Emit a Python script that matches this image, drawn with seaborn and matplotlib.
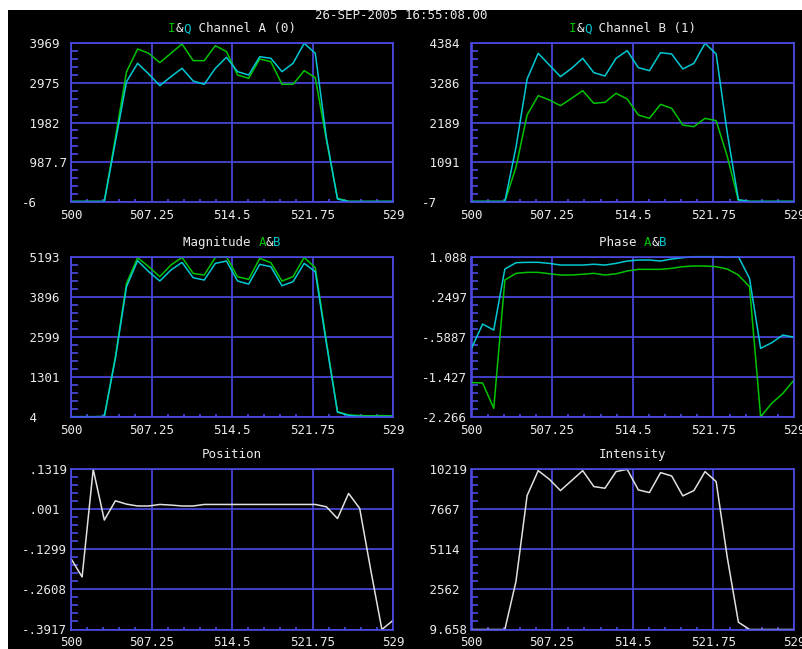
import numpy as np
import pandas as pd
import matplotlib
matplotlib.use("Agg")
import matplotlib.pyplot as plt
import seaborn as sns
from matplotlib.ticker import AutoMinorLocator
from matplotlib.patches import Rectangle

# -----------------------------
# Data
# -----------------------------
freq = list(range(500, 530))

chan_a_i = [0, 0, 0, 0, 1600, 3256, 3827, 3718, 3484, 3718, 3952, 3534, 3534, 3910, 3760,
            3174, 3090, 3576, 3509, 2940, 2940, 3283, 3107, 1550, 80, 0, 0, 0, 0, 0]
chan_a_q = [0, 0, 0, 0, 1500, 3005, 3467, 3199, 2906, 3132, 3341, 3023, 2940, 3341, 3618,
            3258, 3174, 3634, 3592, 3258, 3467, 3969, 3718, 1600, 60, 0, 0, 0, 0, 0]

chan_b_i = [0, 0, 0, 0, 950, 2397, 2933, 2813, 2655, 2859, 3071, 2720, 2748, 2997, 2840,
            2397, 2304, 2692, 2581, 2119, 2073, 2304, 2239, 1250, 30, 0, 0, 0, 0, 0]
chan_b_q = [0, 0, 0, 0, 1500, 3395, 4107, 3783, 3460, 3691, 3968, 3571, 3478, 3968, 4181,
            3709, 3626, 4125, 4088, 3672, 3829, 4384, 4088, 1900, 50, 0, 0, 0, 0, 0]

mag_a = [4, 4, 4, 10, 1950, 4328, 5161, 4869, 4544, 4923, 5171, 4652, 4598, 5171, 5193,
         4544, 4458, 5139, 4998, 4404, 4544, 5171, 4836, 2450, 166, 60, 40, 35, 40, 30]
mag_b = [4, 4, 4, 10, 1900, 4220, 5063, 4707, 4404, 4761, 5009, 4512, 4436, 4977, 5052,
         4404, 4306, 4944, 4869, 4252, 4382, 4977, 4707, 2380, 150, 50, 15, 10, 10, 8]

phase_a = [-1.55, -1.56, -2.09, 0.599, 0.739, 0.76, 0.76, 0.73, 0.704, 0.704, 0.72, 0.74,
           0.704, 0.73, 0.788, 0.823, 0.823, 0.823, 0.844, 0.879, 0.893, 0.893, 0.879,
           0.83, 0.704, 0.459, -2.266, -1.986, -1.777, -1.497]
phase_b = [-0.834, -0.324, -0.449, 0.829, 0.962, 0.97, 0.97, 0.948, 0.913, 0.913, 0.913,
           0.93, 0.913, 0.948, 0.997, 1.018, 1.018, 0.997, 1.039, 1.067, 1.088, 1.088,
           1.088, 1.074, 1.088, 0.634, -0.834, -0.715, -0.555, -0.6]

position = [-0.16, -0.220, 0.1319, -0.034, 0.029, 0.018, 0.012, 0.012, 0.017, 0.015,
            0.012, 0.012, 0.017, 0.017, 0.017, 0.017, 0.017, 0.017, 0.017, 0.017, 0.017,
            0.017, 0.017, 0.0095, -0.029, 0.053, 0.004, -0.198, -0.3917, -0.362]

intensity = [9.658, 9.658, 9.658, 9.658, 3080, 8546, 10134, 9584, 8863, 9499, 10134, 9118,
             9012, 10071, 10219, 8906, 8736, 10007, 9795, 8525, 8863, 10071, 9435, 4600,
             476, 10, 9.658, 9.658, 9.658, 9.658]

x_ticks = [500, 507.25, 514.5, 521.75, 529]
x_labels = ["500", "507.25", "514.5", "521.75", "529"]

y_labels_a = ["-6", "987.7", "1982", "2975", "3969"]
y_labels_b = ["-7", "1091", "2189", "3286", "4384"]
y_labels_mag = ["4", "1301", "2599", "3896", "5193"]
y_labels_phase = ["-2.266", "-1.427", "-.5887", ".2497", "1.088"]
y_labels_pos = ["-.3917", "-.2608", "-.1299", ".001", ".1319"]
y_labels_int = ["9.658", "2562", "5114", "7667", "10219"]

timestamp = "26-SEP-2005 16:55:08.00"

# -----------------------------
# Style
# -----------------------------
BLUE = "#4b4be6"
GREEN = "#00c400"
CYAN = "#00c8d2"
WHITE = "#e0e0e0"
TEXT = "#eaeaea"
FS = 9

sns.set_style("dark", {"axes.facecolor": "black", "figure.facecolor": "white"})
plt.rcParams["font.family"] = ["DejaVu Sans Mono"]
plt.rcParams["font.size"] = FS

W, H = 803, 649
fig = plt.figure(figsize=(W / 100, H / 100), dpi=100)
# black screen area, thin white strip on top and left
fig.add_artist(Rectangle((8 / W, 0), 1, 1 - 10 / H, transform=fig.transFigure,
                         facecolor="black", edgecolor="none", zorder=-10))

fig.text(401.5 / W, 1 - 15.7 / H, timestamp, color=TEXT, ha="center", va="center",
         fontsize=FS)


def make_axes(left, top, right, bottom):
    return fig.add_axes([left / W, 1 - bottom / H, (right - left) / W, (bottom - top) / H])


def style_axes(ax, y_labels):
    ax.set_facecolor("black")
    ax.set_xlim(500, 529)
    ax.set_xticks(x_ticks)
    ax.set_xticklabels(x_labels)
    ymin, ymax = ax.get_ylim()
    ax.set_yticks(np.linspace(ymin, ymax, 5))
    # left aligned column, minus sign hanging out to the left
    ax.set_yticklabels([s if s.startswith("-") else " " + s for s in y_labels])
    for lab in ax.get_yticklabels():
        lab.set_horizontalalignment("left")
    ax.xaxis.set_minor_locator(AutoMinorLocator(5))
    ax.yaxis.set_minor_locator(AutoMinorLocator(5))
    ax.grid(True, which="major", color=BLUE, lw=1.2)
    ax.tick_params(which="both", direction="in", colors=BLUE, labelcolor=TEXT,
                   labelsize=FS, width=1.2, left=True, bottom=True, top=False, right=False)
    ax.tick_params(which="major", length=0)
    ax.tick_params(axis="y", which="major", pad=35.5)
    ax.tick_params(axis="x", which="major", pad=5)
    ax.tick_params(axis="y", which="minor", length=5)
    ax.tick_params(axis="x", which="minor", length=2.2)
    for sp in ax.spines.values():
        sp.set_color(BLUE)
        sp.set_linewidth(1.2)
        sp.set_visible(True)
    ax.set_xlabel("")
    ax.set_ylabel("")


def colored_title(ax, parts):
    # monospace font: every char has the same advance
    n = sum(len(t) for t, _ in parts)
    cw = 0.602 * FS
    pos = -n * cw / 2
    for t, c in parts:
        ax.annotate(t, xy=(0.5, 1), xycoords="axes fraction", xytext=(pos, 10.5),
                    textcoords="offset points", ha="left", va="center", color=c,
                    fontsize=FS, annotation_clip=False)
        pos += len(t) * cw


def draw(ax, series, ylim, y_labels, title):
    for vals, col in series:
        df = pd.DataFrame({"freq": freq, "val": vals})
        sns.lineplot(data=df, x="freq", y="val", ax=ax, color=col, lw=1.1,
                     legend=False, clip_on=False)
    ax.set_ylim(*ylim)
    style_axes(ax, y_labels)
    colored_title(ax, title)


col_l = (71, 393)
col_r = (471.5, 794)
rows = [(43.3, 201.7), (256.7, 416.7), (469.3, 629.5)]

ax1 = make_axes(col_l[0], rows[0][0], col_l[1], rows[0][1])
draw(ax1, [(chan_a_i, GREEN), (chan_a_q, CYAN)], (-6, 3969), y_labels_a,
     [("I", GREEN), ("&", TEXT), ("Q", CYAN), (" Channel A (0)", TEXT)])

ax2 = make_axes(col_r[0], rows[0][0], col_r[1], rows[0][1])
draw(ax2, [(chan_b_i, GREEN), (chan_b_q, CYAN)], (-7, 4384), y_labels_b,
     [("I", GREEN), ("&", TEXT), ("Q", CYAN), (" Channel B (1)", TEXT)])

ax3 = make_axes(col_l[0], rows[1][0], col_l[1], rows[1][1])
draw(ax3, [(mag_a, GREEN), (mag_b, CYAN)], (4, 5193), y_labels_mag,
     [("Magnitude ", TEXT), ("A", GREEN), ("&", TEXT), ("B", CYAN)])

ax4 = make_axes(col_r[0], rows[1][0], col_r[1], rows[1][1])
draw(ax4, [(phase_a, GREEN), (phase_b, CYAN)], (-2.266, 1.088), y_labels_phase,
     [("Phase ", TEXT), ("A", GREEN), ("&", TEXT), ("B", CYAN)])

ax5 = make_axes(col_l[0], rows[2][0], col_l[1], rows[2][1])
draw(ax5, [(position, WHITE)], (-0.3917, 0.1319), y_labels_pos, [("Position", TEXT)])

ax6 = make_axes(col_r[0], rows[2][0], col_r[1], rows[2][1])
draw(ax6, [(intensity, WHITE)], (9.658, 10219), y_labels_int, [("Intensity", TEXT)])

plt.savefig("out.png", dpi=100, facecolor=fig.get_facecolor())
